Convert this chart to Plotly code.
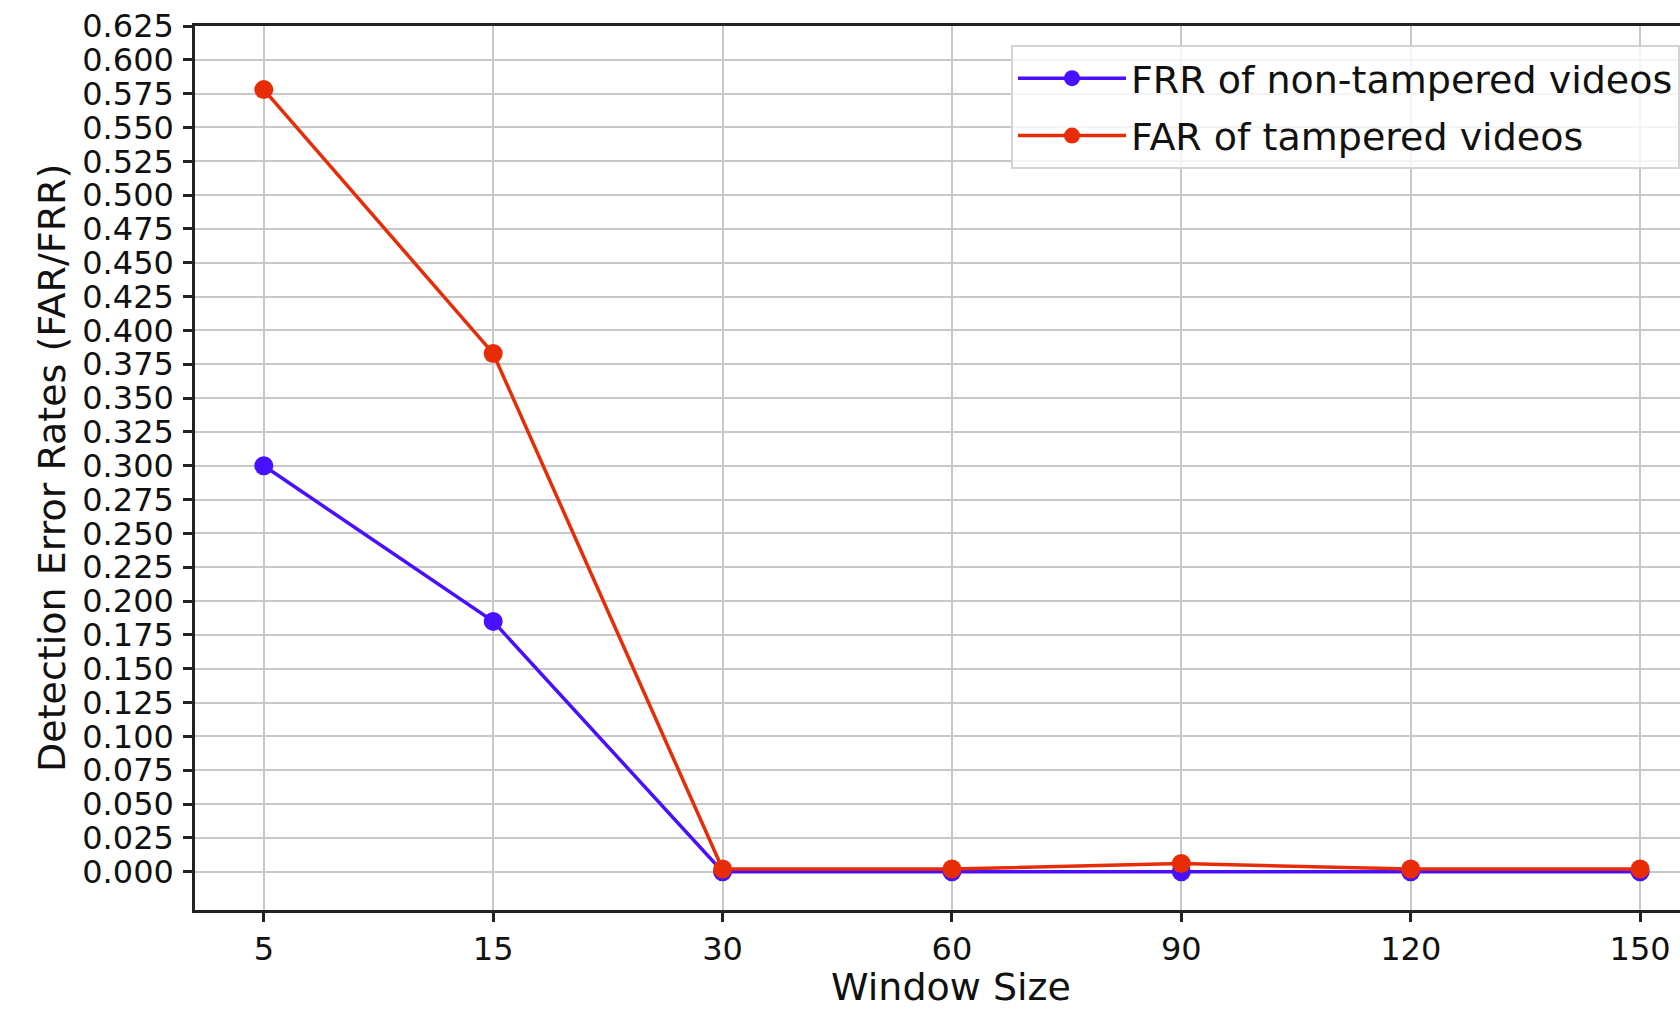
import plotly.graph_objects as go

window_sizes = ["5", "15", "30", "60", "90", "120", "150"]
frr_non_tampered = [0.300, 0.185, 0.000, 0.000, 0.000, 0.000, 0.000]
far_tampered = [0.578, 0.383, 0.002, 0.002, 0.006, 0.002, 0.002]
y_ticks = [round(i * 0.025, 3) for i in range(26)]

BLUE = "rgb(72,16,255)"
RED = "rgb(232,44,8)"
FONT = "DejaVu Sans"

fig = go.Figure()
fig.add_trace(go.Scatter(
    x=window_sizes, y=frr_non_tampered, mode="lines+markers",
    name="FRR of non-tampered videos", legendgroup="frr",
    line=dict(color=BLUE, width=3.5),
    marker=dict(color=BLUE, size=19),
    cliponaxis=False,
))
fig.add_trace(go.Scatter(
    x=window_sizes, y=far_tampered, mode="lines+markers",
    name="FAR of tampered videos", legendgroup="far",
    line=dict(color=RED, width=3.5),
    marker=dict(color=RED, size=19),
    cliponaxis=False,
))

fig.update_layout(
    width=1680, height=1010,
    margin=dict(l=195, r=0, t=26, b=100, autoexpand=False),
    paper_bgcolor="white", plot_bgcolor="white",
    font=dict(family=FONT, color="#111111"),
    showlegend=True,
    legend=dict(
        x=0.5495, y=0.9785, xanchor="left", yanchor="top",
        bgcolor="rgba(255,255,255,0.8)", bordercolor="#d4d4d4", borderwidth=2,
        font=dict(family=FONT, size=38, color="#111111"),
        itemwidth=108, tracegroupgap=5,
    ),
)

fig.update_xaxes(
    type="category", categoryorder="array", categoryarray=window_sizes,
    range=[-0.3, 6.174],
    showgrid=True, gridcolor="#c8c8c8", gridwidth=2,
    showline=True, linecolor="#222222", linewidth=2.5, mirror=True,
    ticks="outside", ticklen=9, tickwidth=2.5, tickcolor="#222222",
    tickfont=dict(family=FONT, size=32, color="#111111"),
    zeroline=False,
)
fig.update_yaxes(
    range=[-0.0283, 0.625],
    tickmode="array", tickvals=y_ticks, ticktext=[f"{v:.3f}" for v in y_ticks],
    showgrid=True, gridcolor="#c8c8c8", gridwidth=2,
    showline=True, linecolor="#222222", linewidth=2.5, mirror=False,
    ticks="outside", ticklen=9, tickwidth=2.5, tickcolor="#222222",
    tickfont=dict(family=FONT, size=32, color="#111111"),
    ticklabelstandoff=3,
    zeroline=False,
)

fig.add_annotation(
    text="Window Size", xref="paper", yref="paper",
    x=0.5088, y=-0.0875, xanchor="center", yanchor="middle",
    showarrow=False, font=dict(family=FONT, size=38, color="#111111"),
)
fig.add_annotation(
    text="Detection Error Rates (FAR/FRR)", xref="paper", yref="paper",
    x=-0.0963, y=0.5, xanchor="center", yanchor="middle", textangle=-90,
    showarrow=False, font=dict(family=FONT, size=38, color="#111111"),
)

fig.write_html(
    "out.html",
    config={"displayModeBar": False},
    post_script="document.body.style.margin='0';document.body.style.overflow='hidden';",
)
